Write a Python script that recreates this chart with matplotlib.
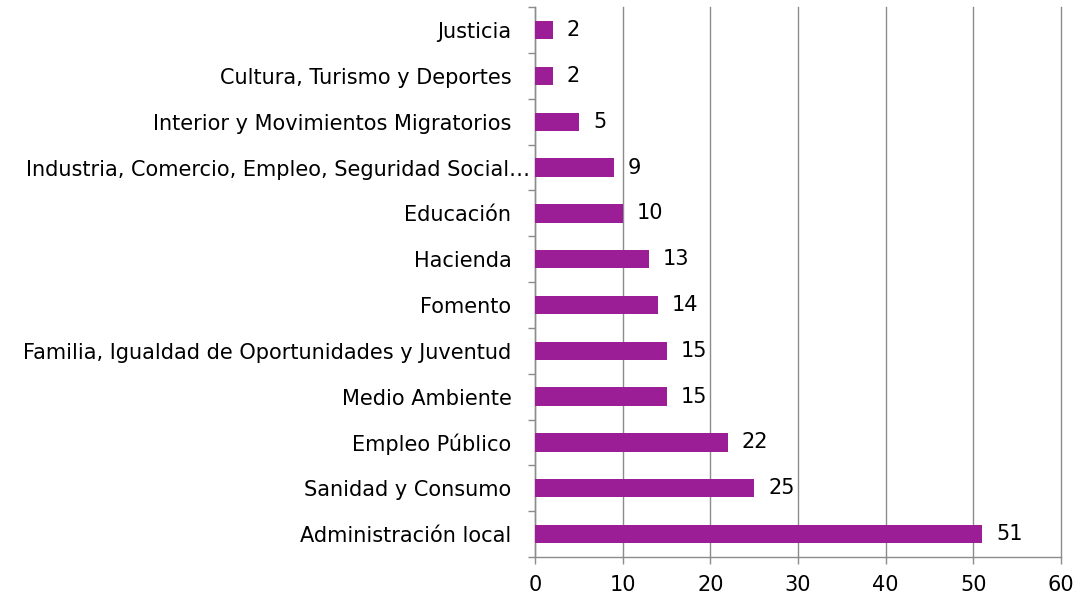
import numpy as np
import matplotlib.transforms as mtransforms
from matplotlib import pyplot as plt

categories = [
    "Administración local",
    "Sanidad y Consumo",
    "Empleo Público",
    "Medio Ambiente",
    "Familia, Igualdad de Oportunidades y Juventud",
    "Fomento",
    "Hacienda",
    "Educación",
    "Industria, Comercio, Empleo, Seguridad Social…",
    "Interior y Movimientos Migratorios",
    "Cultura, Turismo y Deportes",
    "Justicia",
]
values = [51, 25, 22, 15, 15, 14, 13, 10, 9, 5, 2, 2]
x_ticks = [0, 10, 20, 30, 40, 50, 60]

bar_color = "#9B1E96"
grid_color = "#8C8C8C"
fs = 15

plt.rcParams['font.family'] = ['DejaVu Sans']
fig = plt.figure(figsize=(10.8, 6.02), dpi=100)
ax = fig.add_axes([0.4954, 0.0748, 0.4870, 0.9132])

pos = np.arange(len(categories))
ax.barh(pos, values, height=0.4, color=bar_color, zorder=3)
for p, v in zip(pos, values):
    ax.text(v + 1.6, p, str(v), va='center', ha='left', fontsize=fs, color='black')

ax.set_xlim(0, 60)
ax.set_ylim(-0.5, len(categories) - 0.5)
ax.set_xticks(x_ticks)
ax.set_xticklabels([str(t) for t in x_ticks], fontsize=fs)
ax.set_yticks(pos)
ax.set_yticklabels(categories, fontsize=fs)
ax.set_yticks(np.arange(len(categories) + 1) - 0.5, minor=True)

ax.tick_params(axis='y', which='major', length=0, pad=17)
ax.tick_params(axis='y', which='minor', length=5, width=1, color=grid_color, direction='out')
ax.tick_params(axis='x', which='major', length=5, width=1, color=grid_color, direction='out', pad=8)

# the truncated long label runs right up to the axis
long_label = ax.get_yticklabels()[categories.index("Industria, Comercio, Empleo, Seguridad Social…")]
long_label.set_transform(long_label.get_transform()
                         + mtransforms.ScaledTranslation(0.19, 0, fig.dpi_scale_trans))

ax.xaxis.grid(True, color=grid_color, linewidth=1, zorder=0, clip_on=False)
for side in ['top', 'right']:
    ax.spines[side].set_visible(False)
for side in ['left', 'bottom']:
    ax.spines[side].set_color(grid_color)
    ax.spines[side].set_linewidth(1)

fig.savefig("out.png", dpi=100)
